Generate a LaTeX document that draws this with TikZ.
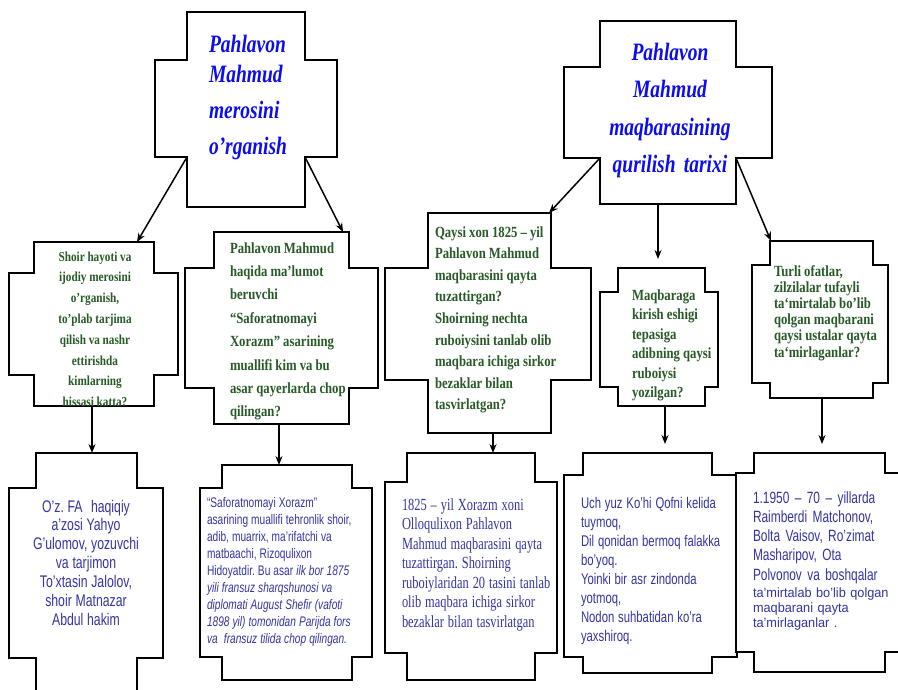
\documentclass[tikz,border=0pt]{standalone}
\usepackage{fontspec}
\usetikzlibrary{arrows.meta}
\newfontfamily\titlefont{Liberation Serif}[FakeStretch=0.78]
\newfontfamily\qfont{Liberation Serif}[FakeStretch=0.82]
\newfontfamily\asans{Liberation Sans}[FakeStretch=0.73]
\newfontfamily\aserif{Liberation Serif}[FakeStretch=0.73]
\newfontfamily\asanswide{Liberation Sans}[FakeStretch=0.95]
\newcommand{\tightsp}[1]{\spaceskip=#1em plus 0.03em\relax\xspaceskip=#1em\relax}
\definecolor{qgreen}{RGB}{40,90,40}
\definecolor{ablue}{RGB}{52,52,162}
\definecolor{tblue}{RGB}{12,12,240}
% innerL, innerR, outerL, outerR, top, notch1, notch2, bottom
\newcommand{\plqpath}[8]{(#1,#5) -- (#2,#5) -- (#2,#6) -- (#4,#6) -- (#4,#7) -- (#2,#7) -- (#2,#8) -- (#1,#8) -- (#1,#7) -- (#3,#7) -- (#3,#6) -- (#1,#6) -- cycle}
\tikzset{
  plq/.style={draw=black, line width=1.8pt, fill=white, line join=miter},
  arr/.style={-{Stealth[length=9pt,width=7pt]}, line width=1.5pt},
  txt/.style={inner sep=0pt, outer sep=0pt, text width=#1},
  ttl/.style={txt=200pt, font=\titlefont\bfseries\itshape\fontsize{25}{36}\selectfont, text=tblue},
  qtxt/.style={txt=200pt, text=qgreen, align=flush left},
  atxt/.style={txt=200pt, text=ablue},
}
\begin{document}
\begin{tikzpicture}[x=1pt,y=-1pt]
\clip (0,0) rectangle (898,689);
\fill[white] (0,0) rectangle (898,689);
% boxes
\draw[plq] \plqpath{187}{305}{155}{337}{12}{60}{157}{207};
\draw[plq] \plqpath{600}{736}{564}{772}{21}{67}{158}{204};
\draw[plq] \plqpath{34}{154}{9}{178}{242}{273}{375}{406};
\draw[plq] \plqpath{214}{349}{185}{378}{232}{268}{388}{424};
\draw[plq] \plqpath{428}{551}{385}{591}{213}{268}{380}{433};
\draw[plq] \plqpath{618}{705}{600}{718}{268}{292}{387}{406};
\draw[plq] \plqpath{770}{873}{752}{888}{241}{265}{383}{398};
\draw[plq] \plqpath{36}{137}{9}{163}{453}{488}{658}{700};
\draw[plq] \plqpath{222}{352}{200}{372}{465}{488}{657}{680};
\draw[plq] \plqpath{407}{535}{385}{557}{453}{482}{653}{680};
\draw[plq] \plqpath{583}{712}{564}{737}{453}{475}{657}{673};
\draw[plq] \plqpath{754}{885}{736}{905}{453}{473}{652}{672};
% anchor coordinates
\coordinate (b1ll) at (187,157);
\coordinate (b1lr) at (305,157);
\coordinate (b2ll) at (600,158);
\coordinate (b2lr) at (736,158);
\coordinate (b2bot) at (658,204);
\coordinate (b3top) at (137,242);
\coordinate (b4top) at (343,232);
\coordinate (b5top) at (549,213);
\coordinate (b6top) at (658,259);
\coordinate (b7top) at (771,241);
\coordinate (b3bot) at (92,406);
\coordinate (b4bot) at (279,424);
\coordinate (b5bot) at (493,433);
\coordinate (b6bot) at (665,406);
\coordinate (b7bot) at (822,398);
\coordinate (b8top) at (92,453);
\coordinate (b9top) at (279,465);
\coordinate (b10top) at (493,453);
\coordinate (b11top) at (665,444);
\coordinate (b12top) at (822,444);
% connectors
\draw[arr] (b1ll) -- (b3top);
\draw[arr] (b1lr) -- (b4top);
\draw[arr] (b2ll) -- (b5top);
\draw[arr] (b2bot) -- (b6top);
\draw[arr] (b2lr) -- (b7top);
\draw[arr] (b3bot) -- (b8top);
\draw[arr] (b4bot) -- (b9top);
\draw[arr] (b5bot) -- (b10top);
\draw[arr] (b6bot) -- (b11top);
\draw[arr] (b7bot) -- (b12top);
% titles
\node[ttl, anchor=base west, align=left] (t1) at (209,52) {Pahlavon\\[-6pt]Mahmud\\merosini\\o’rganish};
\node[ttl, anchor=base, align=center, font=\titlefont\bfseries\itshape\fontsize{25}{37.5}\selectfont] (t2) at (670,60) {Pahlavon\\Mahmud\\maqbarasining\\qurilish tarixi};
% questions
\begin{scope}
\clip \plqpath{34}{154}{9}{178}{242}{273}{375}{405};
\node[qtxt, anchor=base, align=flush center, font=\qfont\bfseries\fontsize{13.7}{20.8}\selectfont\tightsp{0.2}] (t3) at (95,261) {Shoir hayoti va\\ijodiy merosini\\o’rganish,\\to’plab tarjima\\qilish va nashr\\ettirishda\\kimlarning\\hissasi katta?};
\end{scope}
\node[qtxt, anchor=base west, font=\qfont\bfseries\fontsize{15.5}{23.4}\selectfont\tightsp{0.2}] (t4) at (230,253) {Pahlavon Mahmud\\haqida ma’lumot\\beruvchi\\“Saforatnomayi\\Xorazm” asarining\\muallifi kim va bu\\asar qayerlarda chop\\qilingan?};
\node[qtxt, anchor=base west, font=\qfont\bfseries\fontsize{15.5}{21.6}\selectfont\tightsp{0.2}] (t5) at (435,237) {Qaysi xon 1825 – yil\\Pahlavon Mahmud\\maqbarasini qayta\\tuzattirgan?\\Shoirning nechta\\ruboiysini tanlab olib\\maqbara ichiga sirkor\\bezaklar bilan\\tasvirlatgan?};
\node[qtxt, anchor=base west, font=\qfont\bfseries\fontsize{15.5}{19.5}\selectfont\tightsp{0.2}] (t6) at (632,300) {Maqbaraga\\kirish eshigi\\tepasiga\\adibning qaysi\\ruboiysi\\yozilgan?};
\node[qtxt, anchor=base west, font=\qfont\bfseries\fontsize{15.5}{16.2}\selectfont\tightsp{0.2}] (t7) at (774,276) {Turli ofatlar,\\zilzilalar tufayli\\ta‘mirtalab bo’lib\\qolgan maqbarani\\qaysi ustalar qayta\\ta‘mirlaganlar?};
% answers
\node[atxt, anchor=base, align=flush center, font=\asans\fontsize{16.8}{18.9}\selectfont\tightsp{0.22}] (t8) at (86,512) {O’z. FA\hspace{0.5em}haqiqiy\\a’zosi Yahyo\\G’ulomov, yozuvchi\\va tarjimon\\To’xtasin Jalolov,\\shoir Matnazar\\Abdul hakim};
\node[atxt, anchor=base west, align=flush left, font=\asans\fontsize{13.9}{17}\selectfont\tightsp{0.22}] (t9) at (207,507) {“Saforatnomayi Xorazm”\\asarining muallifi tehronlik shoir,\\adib, muarrix, ma’rifatchi va\\matbaachi, Rizoqulixon\\Hidoyatdir. Bu asar \textit{ilk bor 1875}\\\textit{yili fransuz sharqshunosi va}\\\textit{diplomati August Shefir (vafoti}\\\textit{1898 yil) tomonidan Parijda fors}\\\textit{va\hspace{0.45em}fransuz tilida chop qilingan.}};
\node[atxt, anchor=base west, align=flush left, font=\aserif\fontsize{17}{19.5}\selectfont\tightsp{0.23}] (t10) at (402,510) {1825 – yil Xorazm xoni\\Olloqulixon Pahlavon\\Mahmud maqbarasini qayta\\tuzattirgan. Shoirning\\ruboiylaridan 20 tasini tanlab\\olib maqbara ichiga sirkor\\bezaklar bilan tasvirlatgan};
\node[atxt, anchor=base west, align=flush left, font=\asans\fontsize{15.5}{19}\selectfont\tightsp{0.25}] (t11) at (581,508) {Uch yuz Ko’hi Qofni kelida\\tuymoq,\\Dil qonidan bermoq falakka\\bo’yoq.\\Yoinki bir asr zindonda\\yotmoq,\\Nodon suhbatidan ko’ra\\yaxshiroq.};
\node[atxt, anchor=base west, align=left, font=\asans\fontsize{16.3}{19.3}\selectfont] (t12) at (753,503) {1.1950 – 70 – yillarda\\Raimberdi Matchonov,\\Bolta Vaisov, Ro’zimat\\Masharipov, Ota\\Polvonov va boshqalar};
\node[atxt, anchor=base west, align=left, font=\asanswide\fontsize{13.4}{15.3}\selectfont] (t12b) at (753,597) {ta’mirtalab bo’lib qolgan\\maqbarani qayta\\ta’mirlaganlar .};
\end{tikzpicture}
\end{document}
